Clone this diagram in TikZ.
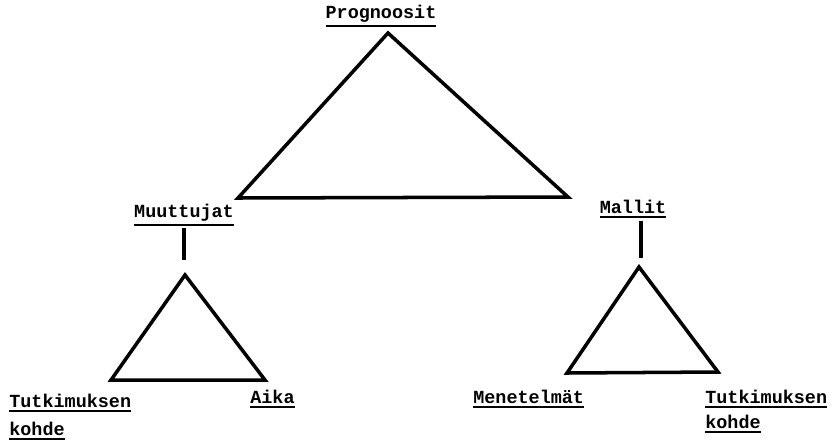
\documentclass[tikz,border=0pt]{standalone}
\usepackage{fontspec}
\setmonofont{Liberation Mono}
\newcommand{\ulbox}[1]{\vtop{\hbox{#1}\kern1.6pt\hrule height 1.3pt}}
\begin{document}
\begin{tikzpicture}[x=0.02cm, y=-0.02cm,
    lbl/.style={font=\ttfamily\bfseries\fontsize{10.5}{12}\selectfont, inner sep=0pt},
    tri/.style={line width=2pt, line join=miter},
    stemline/.style={line width=2pt}]
    \useasboundingbox (0,0) rectangle (832,444);

    % Top level
    \node[lbl, anchor=base] (progn) at (381,18) {\ulbox{Prognoosit}};
    \coordinate (ptop) at (388,33);
    \coordinate (pleft) at (238,198);
    \coordinate (pright) at (568,197);
    \draw[tri] (ptop) -- (pleft) -- (pright) -- cycle;

    % Middle level
    \node[lbl, anchor=base] (muut) at (184,217) {\ulbox{Muuttujat}};
    \node[lbl, anchor=base] (mallit) at (633,213) {\ulbox{Mallit}};

    % Left branch
    \coordinate (ltop) at (185,275);
    \coordinate (lleft) at (111,380);
    \coordinate (lright) at (265,380);
    \coordinate (lstem) at (184,260);
    \draw[stemline] (muut.south -| lstem) ++(0,2) -- (lstem);
    \draw[tri] (ltop) -- (lleft) -- (lright) -- cycle;

    % Right branch
    \coordinate (rtop) at (639,267);
    \coordinate (rleft) at (567,373);
    \coordinate (rright) at (718,372);
    \coordinate (rstem) at (641,258);
    \draw[stemline] (mallit.south -| rstem) ++(0,2) -- (rstem);
    \draw[tri] (rtop) -- (rleft) -- (rright) -- cycle;

    % Bottom labels
    \node[lbl, anchor=base west] (ltutk) at (9,407) {\ulbox{Tutkimuksen}};
    \node[lbl, anchor=base west] (lkohde) at (9,435) {\ulbox{kohde}};
    \node[lbl, anchor=base west] (aika) at (250,403) {\ulbox{Aika}};
    \node[lbl, anchor=base west] (menet) at (473,403) {\ulbox{Menetelmät}};
    \node[lbl, anchor=base west] (rtutk) at (705,403) {\ulbox{Tutkimuksen}};
    \node[lbl, anchor=base west] (rkohde) at (705,428) {\ulbox{kohde}};
\end{tikzpicture}
\end{document}
